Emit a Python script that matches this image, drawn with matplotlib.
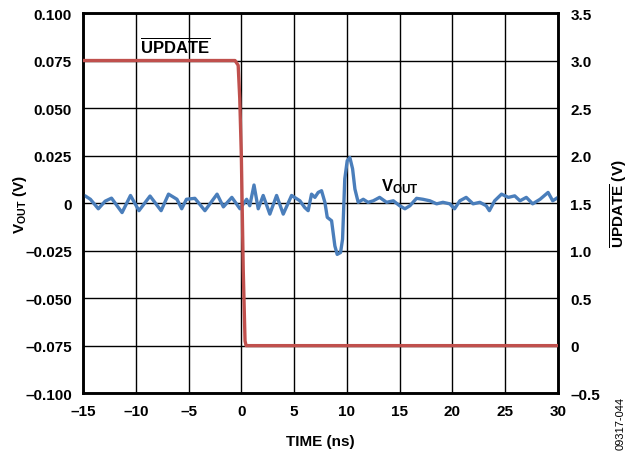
import matplotlib
matplotlib.use("Agg")
import matplotlib.pyplot as plt

plt.rcParams["font.family"] = ["Liberation Sans", "DejaVu Sans"]
plt.rcParams["font.weight"] = "bold"
plt.rcParams["mathtext.fontset"] = "custom"
plt.rcParams["mathtext.rm"] = "Liberation Sans:bold"
plt.rcParams["mathtext.bf"] = "Liberation Sans:bold"
plt.rcParams["mathtext.it"] = "Liberation Sans:bold"

# --- data ---
vout_t = [-15, -14.8, -14.3, -13.55, -12.9, -12.3, -11.3, -10.5, -9.7, -8.65,
          -7.6, -6.9, -6.1, -5.65, -5.2, -4.4, -3.45, -2.3, -1.7, -0.9,
          -0.13, 0.5, 0.8, 1.2, 1.6, 2.07, 2.7, 3.34, 3.97, 4.76,
          5.55, 6.0, 6.33, 6.65, 6.97, 7.28, 7.6, 7.92, 8.14, 8.55,
          8.86, 9.08, 9.4, 9.59, 9.8, 10.03, 10.28, 10.54, 10.76, 11.07,
          11.55, 12.0, 12.5, 13.1, 13.76, 14.4, 15.0, 15.5, 15.97, 16.6,
          17.2, 17.86, 18.5, 19.1, 19.75, 20.2, 20.7, 21.3, 21.96, 22.6,
          23.2, 23.5, 24.0, 24.65, 25.3, 25.9, 26.4, 27.0, 27.6, 28.3,
          29.06, 29.5, 30]
vout_v = [0.004, 0.0038, 0.002, -0.003, 0.001, 0.0026, -0.005, 0.004, -0.004, 0.0037,
          -0.004, 0.0047, 0.002, -0.003, 0.002, 0.0025, -0.004, 0.0047, -0.002, 0.003,
          -0.003, 0.002, -0.0014, 0.0095, -0.003, 0.004, -0.0058, 0.004, -0.0058, 0.004,
          0.0012, -0.0023, -0.004, 0.0047, 0.003, 0.0056, 0.0065, 0.0003, -0.0075, -0.0093,
          -0.0225, -0.027, -0.026, -0.019, 0.0127, 0.0223, 0.024, 0.018, 0.0074, 0.0004,
          0.002, 0.0004, 0.0012, 0.003, 0.0004, 0.0012, -0.0014, -0.003, -0.0014, 0.0025,
          0.002, 0.0012, -0.0004, 0.0004, -0.0004, -0.003, 0.0012, 0.003, -0.0004, 0.0004,
          -0.0014, -0.004, 0.0012, 0.0047, 0.003, 0.0038, 0.0012, 0.003, -0.0004, 0.002,
          0.0056, 0.0012, 0.003]

update_t = [-15, -0.6, -0.3, -0.15, 0.0, 0.18, 0.35, 0.45, 30]
update_v = [3.0, 3.0, 2.95, 2.6, 2.0, 0.8, 0.05, 0.0, 0.0]

x_ticks = [-15, -10, -5, 0, 5, 10, 15, 20, 25, 30]
x_labels = ["–15", "–10", "–5", "0", "5", "10", "15", "20", "25", "30"]
left_ticks = [-0.1, -0.075, -0.05, -0.025, 0, 0.025, 0.05, 0.075, 0.1]
left_labels = ["–0.100", "–0.075", "–0.050", "–0.025", "0", "0.025", "0.050", "0.075", "0.100"]
right_ticks = [-0.5, 0, 0.5, 1.0, 1.5, 2.0, 2.5, 3.0, 3.5]
right_labels = ["–0.5", "0", "0.5", "1.0", "1.5", "2.0", "2.5", "3.0", "3.5"]

blue = "#4a7ebb"
red = "#c0504d"

fig = plt.figure(figsize=(6.41, 4.52), dpi=100)
ax = fig.add_axes([0.1295, 0.128, 0.741, 0.841])
ax2 = ax.twinx()

ax.plot(vout_t, vout_v, color=blue, lw=2.4, zorder=3)
ax2.plot(update_t, update_v, color=red, lw=2.4, zorder=3)

ax.set_xlim(-15, 30)
ax.set_ylim(-0.1, 0.1)
ax2.set_ylim(-0.5, 3.5)

ax.set_xticks(x_ticks)
ax.set_xticklabels(x_labels)
ax.set_yticks(left_ticks)
ax.set_yticklabels(left_labels)
ax2.set_yticks(right_ticks)
ax2.set_yticklabels(right_labels)

ax.grid(True, color="black", lw=1.0)
ax.set_axisbelow(True)
for a in (ax, ax2):
    a.tick_params(length=0, labelsize=11)
    for s in a.spines.values():
        s.set_linewidth(1.8)
ax.tick_params(axis="x", pad=8)
ax.tick_params(axis="y", pad=8)
ax2.tick_params(axis="y", pad=9)

ax.set_xlabel("TIME (ns)", fontsize=11, fontweight="bold", labelpad=11)
ax.set_ylabel(r"$\mathbf{V}_{\mathbf{OUT}}$ (V)", fontsize=11, fontweight="bold")
ax.yaxis.set_label_coords(-0.114, 0.5)
ax2.set_ylabel(r"$\overline{\mathbf{UPDATE}}$ (V)", fontsize=11, fontweight="bold", labelpad=6)

ax.text(-9.6, 0.078, r"$\overline{\mathbf{UPDATE}}$", fontsize=12, ha="left", va="bottom")
ax.text(13.2, 0.004, r"$\mathbf{V}_{\mathbf{OUT}}$", fontsize=12, ha="left", va="bottom")

fig.text(0.968, 0.005, "09317-044", rotation=90, fontsize=8, fontweight="normal",
         ha="center", va="bottom")

fig.savefig("out.png", dpi=100)
